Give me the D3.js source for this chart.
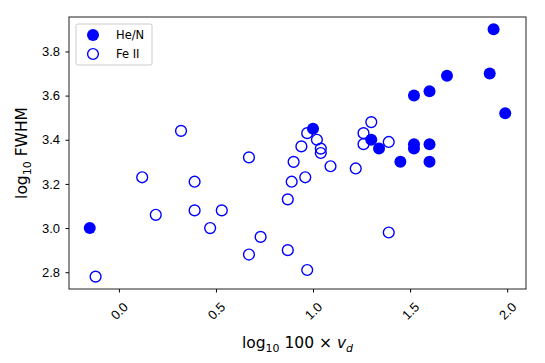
<!DOCTYPE html>
<html>
<head>
<meta charset="utf-8">
<script src="https://cdn.jsdelivr.net/npm/d3@7"></script>
<style>
  body { margin: 0; background: #fff; }
  svg { font-family: "DejaVu Sans", sans-serif; }
</style>
</head>
<body>
<div id="chart"></div>
<script>
// valeurs : log10 100*v_d (x) et log10 FWHM (y)
const heX = [-0.15, 1.00, 1.30, 1.34, 1.52, 1.52, 1.60, 1.45, 1.60, 1.52, 1.60, 1.69, 1.91, 1.93, 1.99]
const heY = [3.00, 3.45, 3.40, 3.36, 3.38, 3.36, 3.38, 3.30, 3.30, 3.60, 3.62, 3.69, 3.70, 3.90, 3.52]

const feX = [-0.12, 0.12, 0.19, 0.32, 0.39, 0.39, 0.47, 0.53, 0.67, 0.67, 0.73, 0.87, 0.87, 0.89, 0.90,
             0.94, 0.96, 0.97, 0.97, 1.02, 1.04, 1.04, 1.09, 1.22, 1.26, 1.26, 1.30, 1.39, 1.39]
const feY = [2.78, 3.23, 3.06, 3.44, 3.21, 3.08, 3.00, 3.08, 3.32, 2.88, 2.96, 3.13, 2.90, 3.21, 3.30,
             3.37, 3.23, 3.43, 2.81, 3.40, 3.36, 3.34, 3.28, 3.27, 3.43, 3.38, 3.48, 3.39, 2.98]

const xTicks = [0.0, 0.5, 1.0, 1.5, 2.0]
const yTicks = [2.8, 3.0, 3.2, 3.4, 3.6, 3.8]
const legendLabels = ["He/N", "Fe II"]

const width = 545, height = 363
const m = {left: 69, right: 19, top: 17, bottom: 74}

const svg = d3.select("#chart").append("svg")
    .attr("width", width).attr("height", height)

// marges de 5% comme matplotlib
const allX = heX.concat(feX), allY = heY.concat(feY)
const xe = d3.extent(allX), ye = d3.extent(allY)
const dx = (xe[1] - xe[0]) * 0.05, dy = (ye[1] - ye[0]) * 0.05

const x = d3.scaleLinear().domain([xe[0] - dx, xe[1] + dx]).range([m.left, width - m.right])
const y = d3.scaleLinear().domain([ye[0] - dy, ye[1] + dy]).range([height - m.bottom, m.top])

const blue = "#0000ff"

// axes
const xAxis = svg.append("g")
    .attr("transform", "translate(0," + (height - m.bottom) + ")")
    .call(d3.axisBottom(x).tickValues(xTicks).tickFormat(d3.format(".1f")).tickSize(3.5).tickSizeOuter(0))
xAxis.select(".domain").remove()
xAxis.selectAll("line").attr("stroke", "#000")
xAxis.selectAll("text")
    .attr("font-size", 13).attr("fill", "#000")
    .attr("y", 0).attr("dy", 0)
    .attr("text-anchor", "middle")
    .attr("dominant-baseline", "central")
    .attr("transform", "translate(0,22) rotate(-45)")

const yAxis = svg.append("g")
    .attr("transform", "translate(" + m.left + ",0)")
    .call(d3.axisLeft(y).tickValues(yTicks).tickFormat(d3.format(".1f")).tickSize(3.5).tickSizeOuter(0))
yAxis.select(".domain").remove()
yAxis.selectAll("line").attr("stroke", "#000")
yAxis.selectAll("text").attr("font-size", 13).attr("fill", "#000").attr("x", -9)

svg.append("rect")
    .attr("x", m.left).attr("y", m.top)
    .attr("width", width - m.left - m.right).attr("height", height - m.top - m.bottom)
    .attr("fill", "none").attr("stroke", "#222").attr("stroke-width", 1)

// points
const plot = svg.append("g")
plot.selectAll("circle.fe")
    .data(feX.map((d, i) => [d, feY[i]]))
    .enter().append("circle")
    .attr("class", "fe")
    .attr("cx", d => x(d[0])).attr("cy", d => y(d[1]))
    .attr("r", 5.4)
    .attr("fill", "none").attr("stroke", blue).attr("stroke-width", 1.4)

plot.selectAll("circle.he")
    .data(heX.map((d, i) => [d, heY[i]]))
    .enter().append("circle")
    .attr("class", "he")
    .attr("cx", d => x(d[0])).attr("cy", d => y(d[1]))
    .attr("r", 6)
    .attr("fill", blue)

// légende
const leg = svg.append("g")
leg.append("rect")
    .attr("x", 76).attr("y", 24).attr("width", 76).attr("height", 41).attr("rx", 2)
    .attr("fill", "#fff").attr("fill-opacity", 0.8)
    .attr("stroke", "#ccc").attr("stroke-width", 1)
legendLabels.forEach(function(lab, i) {
    let cy = 35 + i * 19
    leg.append("circle").attr("cx", 93).attr("cy", cy)
        .attr("r", i == 0 ? 6 : 5.4)
        .attr("fill", i == 0 ? blue : "none")
        .attr("stroke", i == 0 ? "none" : blue).attr("stroke-width", 1.4)
    leg.append("text").attr("x", 116).attr("y", cy).attr("dy", "0.35em")
        .attr("font-size", 11.5).text(lab)
})

// titres des axes
const xl = svg.append("text")
    .attr("x", (m.left + width - m.right) / 2).attr("y", 348)
    .attr("text-anchor", "middle").attr("font-size", 15.5)
xl.append("tspan").text("log")
xl.append("tspan").attr("font-size", 11).attr("dy", 4).text("10")
xl.append("tspan").attr("dy", -4).text(" 100 \u00d7 ")
xl.append("tspan").attr("font-style", "italic").text("v")
xl.append("tspan").attr("font-style", "italic").attr("font-size", 11).attr("dy", 4).text("d")

const yl = svg.append("text")
    .attr("transform", "translate(27," + ((m.top + height - m.bottom) / 2) + ") rotate(-90)")
    .attr("text-anchor", "middle").attr("font-size", 15.5)
yl.append("tspan").text("log")
yl.append("tspan").attr("font-size", 11).attr("dy", 4).text("10")
yl.append("tspan").attr("dy", -4).text(" FWHM")
</script>
</body>
</html>
